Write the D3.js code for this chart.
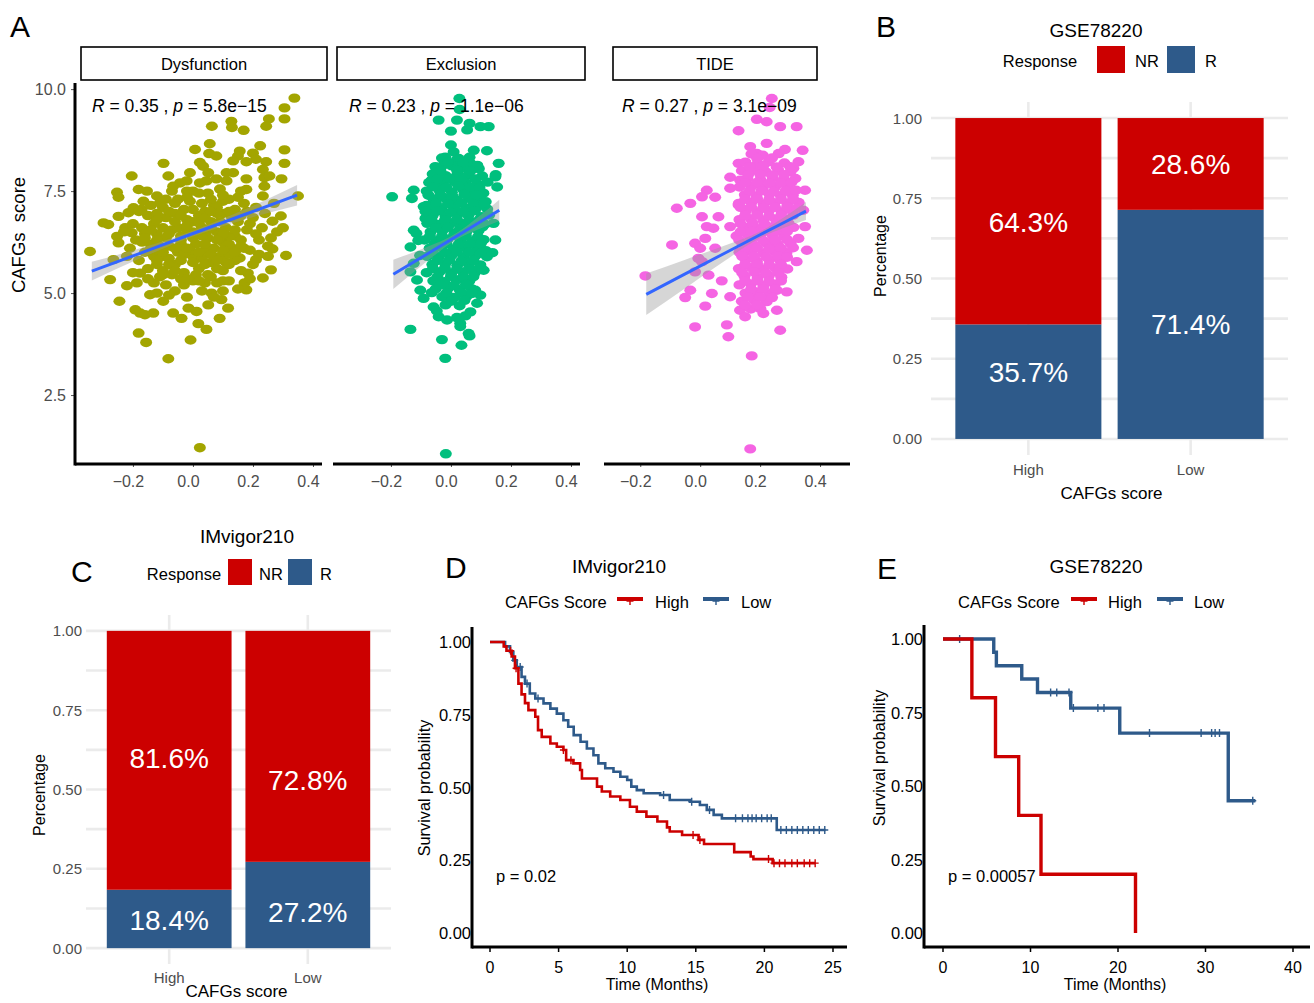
<!DOCTYPE html>
<html>
<head>
<meta charset="utf-8">
<script src="https://cdn.jsdelivr.net/npm/d3@7"></script>
<style>
  body { margin: 0; background: #fff; }
  svg { font-family: "Liberation Sans", Arial, sans-serif; }
</style>
</head>
<body>
<svg id="fig" width="1314" height="1003"></svg>
<script>
// ---------------- data: panel A (correlation facets) ----------------
const facetNames = ["Dysfunction", "Exclusion", "TIDE"];
const corR = ["0.35", "0.23", "0.27"];
const corP = ["5.8e\u221215", "1.1e\u221206", "3.1e\u221209"];
const scatterTicks = [-0.2, 0, 0.2, 0.4];
const scoreTicks = [2.5, 5, 7.5, 10];

const dysPts = [
  [0.338,9.78],[0.305,9.54],[0.305,9.27],[0.253,9.27],[0.244,9.09],[0.128,9.21],[0.13,9.06],[0.169,8.99],
  [0.063,9.09],[0.056,8.66],[0.007,8.52],[0.224,8.61],[0.305,8.51],[0.305,8.18],[0.156,8.48],[0.15,8.36],
  [0.2,8.43],[0.21,8.28],[0.178,8.22],[0.244,8.22],[0.134,8.24],[0.054,8.42],[0.078,8.36],[0.023,8.2],
  [0.034,8.11],[0.051,7.95],[-0.098,8.18],[-0.082,7.87],[-0.204,7.87],[-0.01,7.95],[-0.021,7.75],[-0.043,7.7],
  [-0.066,7.62],[0.233,8.03],[0.238,7.83],[0.255,7.87],[0.238,7.62],[0.233,7.38],[0.295,7.8],[0.178,7.8],
  [0.134,7.95],[0.112,7.95],[0.112,7.75],[0.078,7.8],[0.045,7.75],[0.023,7.7],[0.178,7.54],[-0.181,7.54],
  [-0.153,7.5],[-0.253,7.47],[-0.248,7.35],[-0.12,7.38],[-0.11,7.21],[-0.298,6.72],[-0.282,6.68],[-0.343,6.02],
  [-0.248,6.88],[-0.215,6.97],[-0.198,7.09],[-0.171,7.05],[-0.165,7.25],[-0.226,6.6],[-0.204,6.48],[-0.253,6.39],
  [-0.248,6.23],[-0.265,5.82],[-0.276,5.33],[-0.22,5.18],[-0.187,5.25],[-0.176,5.49],[-0.245,4.8],[-0.192,4.59],
  [-0.176,4.51],[-0.132,4.51],[-0.16,4.47],[-0.181,4.02],[-0.156,3.79],[-0.082,3.39],[-0.008,3.85],[0.018,4.25],
  [0.045,4.11],[0.023,1.21],[0.089,4.38],[0.117,4.63],[0.095,4.84],[0.051,4.71],[0.062,5.0],[-0.066,4.51],
  [-0.038,4.38],[-0.015,4.63],[0.012,4.55],[-0.099,4.8],[-0.143,4.96],[-0.12,5.0],[0.178,5.08],[0.172,5.25],
  [0.183,5.49],[0.233,5.37],[0.26,5.57],[0.31,5.92],[0.293,6.89],[0.265,6.76],[0.25,6.15],[0.265,6.08],
  [0.21,5.82],[0.35,7.38],[0.134,5.98],[0.156,5.86],
  [-0.15,6.9],[-0.13,6.7],[-0.12,6.45],[-0.14,6.2],[-0.16,6.0],[-0.19,6.3],[-0.18,5.8],[-0.15,5.6],
  [-0.11,5.4],[-0.09,5.2],[-0.06,5.05],[-0.03,5.2],[-0.1,5.9],[-0.08,6.15],[-0.07,6.55],[-0.09,6.85],
  [-0.1,7.1],[-0.05,7.3],[-0.03,7.05],[-0.02,6.8],[-0.04,6.4],[-0.05,6.0],[-0.06,5.7],[-0.03,5.5],
  [0.0,5.3],[0.02,5.6],[0.0,5.9],[0.01,6.2],[0.0,6.5],[0.02,6.9],[0.03,7.2],[0.05,7.45],
  [0.07,7.15],[0.06,6.75],[0.05,6.35],[0.04,6.05],[0.06,5.75],[0.05,5.45],[0.08,5.25],[0.1,5.55],
  [0.09,5.9],[0.1,6.25],[0.11,6.6],[0.1,6.95],[0.12,7.3],[0.14,7.05],[0.15,6.75],[0.14,6.4],
  [0.13,6.1],[0.16,6.3],[0.18,6.55],[0.2,6.85],[0.17,7.2],[0.21,7.1],[0.23,6.6],[0.22,6.3],
  [0.19,6.05],[0.2,5.7],[0.12,5.3],[0.15,5.1],[-0.13,5.25],[-0.2,5.5],[-0.21,6.1],[-0.23,6.5],
  [-0.17,6.6],[-0.14,7.15],[-0.07,7.5],[0.0,7.5],[0.09,7.55],[0.16,7.5],[0.27,7.2],[0.28,6.5],
  [0.3,6.6],[0.25,5.9],[0.07,4.9],[-0.02,4.9],[-0.08,4.95],[0.03,5.05],[-0.12,5.7],[-0.04,6.2],
  [0.03,6.6],[0.08,6.5],[-0.01,7.25],[0.04,7.0],[-0.09,6.35],
  [-0.2,6.7],[-0.18,7.0],[-0.16,6.45],[-0.12,6.95],[-0.11,6.15],[-0.13,5.9],[-0.15,5.35],[-0.07,5.45],
  [-0.08,5.85],[-0.05,6.6],[-0.02,6.55],[-0.03,5.95],[0.01,5.45],[0.03,5.85],[0.03,6.4],[0.02,7.45],
  [0.06,7.3],[0.08,6.95],[0.07,6.1],[0.08,5.6],[0.11,5.75],[0.12,6.4],[0.13,6.85],[0.15,7.35],
  [0.18,7.0],[0.19,6.7],[0.17,6.1],[0.16,5.55],[0.14,5.8],[0.21,6.45],[0.24,6.95],[0.22,5.95],
  [0.19,5.35],[0.1,5.05],[0.04,5.25],[-0.04,5.35],[-0.1,5.55],[-0.17,6.25],[-0.06,6.95],[-0.02,7.5],
  [0.1,7.25],[0.26,6.35],[-0.22,5.9],[-0.09,7.3],[0.05,6.55],[-0.01,6.05],[0.0,6.75],[0.09,6.75],
  [-0.13,6.05],[0.12,5.95],
  [-0.14,6.55],[-0.1,6.6],[-0.06,6.75],[-0.02,6.65],[0.02,6.72],[0.06,6.6],[0.1,6.45],[0.14,6.55],
  [-0.16,6.35],[-0.12,6.3],[-0.08,6.45],[-0.04,6.3],[0.0,6.35],[0.04,6.2],[0.08,6.3],[0.12,6.2],[0.16,6.15],
  [-0.14,6.1],[-0.1,6.0],[-0.06,6.1],[-0.02,6.1],[0.02,6.0],[0.06,5.95],[0.1,6.05],[0.14,6.0],
  [-0.12,5.8],[-0.08,5.7],[-0.04,5.8],[0.0,5.75],[0.04,5.7],[0.08,5.8],[0.12,5.7],
  [-0.1,5.45],[-0.06,5.55],[-0.02,5.35],[0.02,5.3],[0.06,5.4],[0.1,5.3],
  [-0.12,6.8],[-0.08,7.0],[-0.04,6.9],[0.0,7.05],[0.04,6.85],[0.08,7.1],[0.12,7.0],[0.16,6.9],
  [-0.06,7.2],[-0.02,7.35],[0.06,7.0],[0.1,7.4]
];

const excPts = [
  [0.028,9.77],[-0.041,9.24],[0.02,9.24],[0.062,9.16],[0.098,9.08],[0.126,9.08],[0.0,8.97],[0.0,8.63],
  [0.009,8.46],[0.076,8.5],[0.12,8.49],[0.159,8.18],[0.148,7.85],[0.154,7.6],[-0.196,7.36],[-0.124,7.52],
  [-0.13,7.32],[-0.091,7.12],[-0.085,6.83],[-0.124,6.54],[-0.135,6.13],[-0.124,5.73],[-0.135,5.52],[-0.113,5.32],
  [-0.102,5.07],[-0.091,4.87],[-0.058,4.66],[-0.041,4.42],[-0.013,4.34],[0.031,4.26],[0.065,4.54],[-0.135,4.11],
  [-0.03,3.86],[0.059,4.01],[-0.019,3.4],[0.081,5.07],[0.098,4.95],[0.087,4.75],[0.142,6.71],[0.148,6.3],
  [0.12,5.89],[0.109,5.56],[-0.017,1.06],
  [0.029,9.5],[0.054,9.0],[-0.019,8.33],[0.026,8.3],[0.037,8.14],[-0.025,8.14],[0.065,8.18],[0.093,8.05],
  [0.149,7.9],[-0.064,7.77],[-0.042,7.64],[-0.081,7.15],[-0.064,6.94],[0.116,7.24],[0.127,6.91],[-0.115,6.46],
  [-0.109,6.29],[-0.103,5.92],[0.116,6.04],[0.138,5.99],[-0.064,5.01],[-0.047,4.56],[0.02,4.4],[0.048,4.44],
  [0.031,4.18],[0.062,3.95],[0.035,3.72],
  [-0.03,8.31],[0.02,8.27],[0.062,8.33],
  [-0.052,8.1],[0.003,8.12],[0.041,8.07],[0.088,8.13],
  [-0.061,7.92],[-0.018,7.88],[0.022,7.93],[0.058,7.9],[0.104,7.87],
  [-0.073,7.71],[-0.028,7.68],[0.012,7.73],[0.049,7.7],[0.091,7.66],[0.122,7.72],
  [-0.081,7.5],[-0.039,7.52],[0.003,7.47],[0.042,7.53],[0.079,7.49],[0.108,7.45],
  [-0.058,7.3],[-0.021,7.33],[0.019,7.28],[0.061,7.32],[0.098,7.29],
  [-0.069,7.1],[-0.032,7.07],[0.011,7.12],[0.052,7.08],[0.087,7.11],[0.121,7.06],
  [-0.061,6.9],[-0.018,6.88],[0.023,6.93],[0.058,6.9],[0.102,6.87],
  [-0.079,6.71],[-0.041,6.68],[0.002,6.72],[0.039,6.7],[0.081,6.66],[0.113,6.69],
  [-0.068,6.5],[-0.029,6.52],[0.012,6.47],[0.051,6.5],[0.092,6.53],
  [-0.088,6.3],[-0.049,6.28],[-0.011,6.32],[0.032,6.29],[0.071,6.27],[0.109,6.31],
  [-0.071,6.1],[-0.032,6.12],[0.009,6.08],[0.048,6.11],[0.089,6.09],
  [-0.079,5.9],[-0.041,5.88],[0.002,5.92],[0.042,5.89],[0.081,5.91],
  [-0.062,5.7],[-0.019,5.72],[0.021,5.68],[0.059,5.71],[0.098,5.69],
  [-0.081,5.5],[-0.038,5.52],[0.001,5.48],[0.041,5.51],[0.079,5.49],
  [-0.059,5.3],[-0.022,5.28],[0.019,5.32],[0.061,5.29],
  [-0.051,5.1],[-0.009,5.12],[0.029,5.08],[0.068,5.11],
  [-0.029,4.91],[0.011,4.89],[0.052,4.92],
  [-0.018,4.71],[0.029,4.69],
  [-0.01,8.21],[0.04,8.2],
  [-0.035,8.0],[0.02,8.02],[0.065,7.99],
  [-0.045,7.8],[-0.005,7.81],[0.035,7.78],[0.08,7.8],
  [-0.06,7.61],[-0.015,7.59],[0.025,7.62],[0.065,7.6],[0.095,7.58],
  [-0.075,7.4],[-0.035,7.41],[0.005,7.38],[0.045,7.42],[0.085,7.4],
  [-0.05,7.2],[-0.01,7.19],[0.035,7.21],[0.075,7.18],[0.11,7.2],
  [-0.085,7.0],[-0.045,7.01],[0.0,6.98],[0.04,7.0],[0.08,7.02],
  [-0.065,6.8],[-0.02,6.79],[0.02,6.81],[0.06,6.78],[0.095,6.8],
  [-0.05,6.6],[-0.01,6.61],[0.03,6.58],[0.07,6.6],[0.105,6.62],
  [-0.07,6.4],[-0.03,6.39],[0.01,6.41],[0.05,6.4],[0.09,6.38],
  [-0.055,6.2],[-0.015,6.21],[0.025,6.19],[0.065,6.2],[0.1,6.22],
  [-0.06,6.0],[-0.02,5.99],[0.02,6.01],[0.06,6.0],[0.1,5.98],
  [-0.045,5.8],[-0.005,5.81],[0.035,5.79],[0.075,5.8],
  [-0.06,5.6],[-0.02,5.61],[0.02,5.59],[0.06,5.6],[0.095,5.62],
  [-0.045,5.4],[0.0,5.41],[0.04,5.39],[0.075,5.4],
  [-0.035,5.2],[0.01,5.19],[0.05,5.21],
  [-0.015,5.0],[0.035,5.01],[0.07,4.99],
  [0.0,4.8],[0.045,4.82]
];

const tidePts = [
  [0.239,9.77],[0.189,9.26],[0.222,9.2],[0.267,9.08],[0.322,9.08],[0.128,8.98],[0.222,8.67],[0.167,8.59],
  [0.189,8.42],[0.283,8.52],[0.342,8.5],[0.128,8.18],[0.1,7.84],[0.133,7.77],[0.022,7.52],[0.006,7.36],
  [0.05,7.35],[0.1,7.57],[-0.078,7.08],[-0.033,7.2],[0.006,6.87],[0.061,6.87],[0.022,6.63],[0.044,6.59],
  [0.1,6.63],[0.128,7.16],[-0.094,6.18],[-0.017,6.22],[0.017,6.34],[0.0,6.1],[0.05,6.1],[-0.183,5.42],
  [-0.017,5.52],[0.006,5.77],[0.028,5.44],[0.072,5.3],[-0.033,5.07],[-0.05,4.89],[0.039,4.99],[0.017,4.68],
  [0.1,4.91],[-0.017,4.17],[0.089,4.22],[0.094,3.93],[0.172,3.46],[0.267,4.09],[0.133,4.58],[0.15,4.42],
  [0.211,4.5],[0.256,4.58],[0.289,5.03],[0.256,5.07],[0.322,5.77],[0.356,6.05],[0.328,6.34],[0.35,6.63],
  [0.344,7.03],[0.35,7.52],[0.311,8.06],[0.328,8.22],[0.167,1.18],[-0.006,5.85],[0.232,9.55],
  [0.171,8.41],[0.209,8.38],[0.262,8.42],
  [0.151,8.21],[0.192,8.18],[0.229,8.22],[0.281,8.19],
  [0.139,8.0],[0.181,8.02],[0.219,7.97],[0.261,8.01],[0.302,7.98],
  [0.158,7.81],[0.201,7.78],[0.242,7.82],[0.279,7.79],[0.318,7.81],
  [0.131,7.6],[0.172,7.62],[0.209,7.58],[0.251,7.61],[0.291,7.59],
  [0.149,7.41],[0.188,7.38],[0.231,7.42],[0.269,7.39],[0.309,7.4],
  [0.129,7.2],[0.171,7.22],[0.212,7.18],[0.248,7.21],[0.291,7.19],[0.329,7.22],
  [0.152,7.01],[0.191,6.98],[0.229,7.02],[0.272,6.99],[0.308,7.01],
  [0.131,6.8],[0.169,6.82],[0.211,6.78],[0.252,6.81],[0.288,6.79],
  [0.149,6.61],[0.192,6.58],[0.228,6.62],[0.271,6.59],[0.311,6.61],
  [0.121,6.4],[0.161,6.42],[0.199,6.38],[0.242,6.41],[0.281,6.39],
  [0.141,6.21],[0.178,6.18],[0.222,6.22],[0.259,6.19],[0.302,6.21],
  [0.131,6.0],[0.169,6.02],[0.212,5.98],[0.251,6.01],[0.288,5.99],
  [0.152,5.81],[0.189,5.78],[0.231,5.82],[0.268,5.79],
  [0.129,5.6],[0.171,5.62],[0.208,5.58],[0.252,5.61],[0.291,5.59],
  [0.148,5.41],[0.192,5.38],[0.229,5.42],[0.271,5.39],
  [0.131,5.2],[0.169,5.22],[0.211,5.18],[0.249,5.21],
  [0.151,5.0],[0.188,5.02],[0.231,4.98],
  [0.139,4.8],[0.181,4.82],[0.222,4.79],
  [0.169,4.61],[0.201,4.62],
  [0.19,8.3],[0.24,8.31],
  [0.165,8.1],[0.21,8.11],[0.255,8.09],[0.3,8.1],
  [0.16,7.9],[0.2,7.91],[0.24,7.89],[0.28,7.9],
  [0.15,7.7],[0.19,7.71],[0.23,7.69],[0.27,7.7],[0.305,7.72],
  [0.165,7.5],[0.205,7.51],[0.245,7.49],[0.285,7.5],[0.32,7.52],
  [0.15,7.3],[0.19,7.31],[0.23,7.29],[0.27,7.3],[0.31,7.31],
  [0.135,7.1],[0.17,7.11],[0.21,7.09],[0.25,7.1],[0.29,7.11],[0.325,7.09],
  [0.15,6.9],[0.19,6.91],[0.23,6.89],[0.27,6.9],[0.31,6.91],
  [0.135,6.7],[0.175,6.71],[0.215,6.69],[0.255,6.7],[0.295,6.71],
  [0.135,6.5],[0.17,6.51],[0.21,6.49],[0.25,6.5],[0.29,6.51],
  [0.13,6.3],[0.17,6.31],[0.21,6.29],[0.25,6.3],[0.29,6.31],
  [0.15,6.1],[0.19,6.11],[0.23,6.09],[0.27,6.1],[0.31,6.11],
  [0.14,5.9],[0.18,5.91],[0.22,5.89],[0.26,5.9],[0.29,5.88],
  [0.15,5.7],[0.19,5.71],[0.23,5.69],[0.27,5.7],
  [0.14,5.5],[0.18,5.51],[0.22,5.49],[0.26,5.5],
  [0.15,5.3],[0.19,5.31],[0.23,5.29],[0.27,5.3],
  [0.17,5.1],[0.21,5.11],[0.25,5.09],
  [0.16,4.9],[0.2,4.91],[0.24,4.89],
  [0.15,4.7],[0.19,4.71]
];

// linear fits with 95% band: x, fitted value, half width
const dysFitX = [-0.337, -0.17, 0, 0.17, 0.347];
const dysFitY = [5.54, 5.99, 6.46, 6.92, 7.40];
const dysFitSE = [0.23, 0.12, 0.07, 0.12, 0.25];
const excFitX = [-0.192, -0.09, 0.02, 0.09, 0.161];
const excFitY = [5.46, 5.91, 6.40, 6.71, 7.03];
const excFitSE = [0.36, 0.19, 0.08, 0.15, 0.26];
const tideFitX = [-0.18, -0.05, 0.08, 0.2, 0.28, 0.353];
const tideFitY = [4.97, 5.47, 5.97, 6.43, 6.73, 7.01];
const tideFitSE = [0.51, 0.35, 0.19, 0.08, 0.13, 0.22];

// ---------------- data: panels B and C (response bars) ----------------
const barGroups = ["High", "Low"];
const gseNR = [64.3, 28.6];
const gseR = [35.7, 71.4];
const gseLabelNR = [0.676, 0.857];
const gseLabelR = [0.209, 0.358];
const imvNR = [81.6, 72.8];
const imvR = [18.4, 27.2];
const imvLabelNR = [0.599, 0.53];
const imvLabelR = [0.088, 0.114];
const pctTicks = [0, 0.25, 0.5, 0.75, 1];

// ---------------- data: panels D and E (Kaplan-Meier) ----------------
const survTicks = [0, 0.25, 0.5, 0.75, 1];
const imvTimeTicks = [0, 5, 10, 15, 20, 25];
const imvHighT = [0, 1.0, 1.2, 1.58, 1.82, 2.07, 2.3, 2.55, 2.8, 3.3, 3.5, 3.77, 4.4, 4.87, 5.35, 5.55, 6.08, 6.57, 6.7,
  7.8, 8.15, 8.76, 9.5, 10.2, 10.7, 11.4, 12.2, 12.9, 13.1, 14.0, 15.2, 15.6, 17.8, 19.0, 19.2, 20.6, 23.7];
const imvHighS = [1, 0.985, 0.97, 0.95, 0.91, 0.857, 0.82, 0.79, 0.766, 0.743, 0.697, 0.674, 0.651, 0.64, 0.629, 0.594,
  0.583, 0.56, 0.531, 0.503, 0.486, 0.469, 0.457, 0.434, 0.417, 0.4, 0.383, 0.363, 0.349, 0.337, 0.32, 0.306, 0.278,
  0.263, 0.254, 0.24, 0.24];
const imvHighCens = [1.5, 1.9, 5.35, 5.9, 14.8, 15.3, 20.3, 20.7, 21.1, 21.5, 22.0, 22.4, 22.9, 23.3, 23.7];
const imvLowT = [0, 1.1, 1.46, 1.7, 1.95, 2.3, 2.55, 2.9, 3.3, 3.9, 4.4, 4.87, 5.35, 5.7, 6.1, 6.6, 7.06, 7.54, 7.9,
  8.4, 9.0, 9.5, 10.0, 10.3, 10.7, 11.2, 12.4, 13.1, 14.6, 15.3, 15.8, 16.3, 16.9, 20.9, 24.45];
const imvLowS = [1, 0.985, 0.966, 0.937, 0.914, 0.88, 0.857, 0.823, 0.806, 0.789, 0.771, 0.754, 0.731, 0.709, 0.68,
  0.657, 0.634, 0.611, 0.583, 0.566, 0.554, 0.537, 0.526, 0.503, 0.491, 0.48, 0.474, 0.457, 0.451, 0.44, 0.423, 0.406,
  0.394, 0.354, 0.354];
const imvLowCens = [1.8, 2.2, 2.7, 3.5, 12.65, 14.7, 16.0, 17.9, 18.4, 18.8, 19.1, 19.4, 19.8, 20.2, 20.5, 21.2, 21.6,
  22.0, 22.4, 22.8, 23.2, 23.6, 24.0, 24.4];

const gseTimeTicks = [0, 10, 20, 30, 40];
const gseHighT = [0, 3.3, 6.0, 8.65, 11.2, 22.0];
const gseHighS = [1, 0.8, 0.6, 0.4, 0.2, 0];
const gseHighCens = [];
const gseLowT = [0, 5.8, 6.1, 9.0, 10.8, 14.6, 20.2, 32.6, 35.7];
const gseLowS = [1, 0.955, 0.909, 0.864, 0.818, 0.765, 0.68, 0.45, 0.45];
const gseLowCens = [1.9, 12.3, 13.0, 14.4, 14.9, 17.7, 18.4, 23.6, 29.5, 30.7, 31.1, 31.6, 35.4];

// ---------------- drawing ----------------
const RED = "#CC0000";
const BLUE = "#2E5A8A";
const TICK_GREY = "#4d4d4d";
const svg = d3.select("#fig");

function addText(g, x, y, s, size, extra) {
  const t = g.append("text").attr("x", x).attr("y", y).attr("font-size", size).text(s);
  if (extra) Object.entries(extra).forEach(([k, v]) => t.attr(k, v));
  return t;
}

function panelLetter(x, y, s) {
  addText(svg, x, y, s, 30);
}

// --- panel A
const yScore = d3.scaleLinear().domain([0.81, 10.15]).range([464, 83]);

function drawScatter(cfg) {
  const g = svg.append("g");
  const x = d3.scaleLinear().domain(cfg.xDomain).range(cfg.xRange);

  g.append("rect")
    .attr("x", cfg.strip[0]).attr("y", 47)
    .attr("width", cfg.strip[1] - cfg.strip[0]).attr("height", 33)
    .attr("fill", "#fff").attr("stroke", "#000").attr("stroke-width", 1.6);
  addText(g, (cfg.strip[0] + cfg.strip[1]) / 2, 70, cfg.name, 16.5, {"text-anchor": "middle"});

  g.selectAll("ellipse").data(cfg.pts).join("ellipse")
    .attr("cx", d => x(d[0])).attr("cy", d => yScore(d[1]))
    .attr("rx", 6).attr("ry", 4.7)
    .attr("fill", cfg.color);

  const idx = d3.range(cfg.fitX.length);
  const band = d3.area()
    .x(i => x(cfg.fitX[i]))
    .y0(i => yScore(cfg.fitY[i] - cfg.fitSE[i]))
    .y1(i => yScore(cfg.fitY[i] + cfg.fitSE[i]))
    .curve(d3.curveMonotoneX);
  g.append("path").attr("d", band(idx)).attr("fill", "#999").attr("opacity", 0.4);
  const fit = d3.line().x(i => x(cfg.fitX[i])).y(i => yScore(cfg.fitY[i]));
  g.append("path").attr("d", fit(idx)).attr("fill", "none")
    .attr("stroke", "#3366FF").attr("stroke-width", 3);

  const ax = g.append("g").attr("transform", "translate(0,464)")
    .call(d3.axisBottom(x).tickValues(scatterTicks).tickFormat(d3.format(".1f")).tickSize(3).tickPadding(9));
  ax.select(".domain").remove();
  ax.selectAll("line").attr("stroke", "#555");
  ax.selectAll("text").attr("fill", TICK_GREY).attr("font-size", 16).attr("dx", -5)
    .attr("font-family", "Liberation Sans, Arial");
  g.append("line")
    .attr("x1", cfg.xRange[0]).attr("x2", cfg.xRange[1]).attr("y1", 464).attr("y2", 464)
    .attr("stroke", "#000").attr("stroke-width", 3);

  const t = g.append("text").attr("x", cfg.annX).attr("y", 112).attr("font-size", 17.5);
  t.append("tspan").attr("font-style", "italic").text("R");
  t.append("tspan").text(` = ${cfg.r} , `);
  t.append("tspan").attr("font-style", "italic").text("p");
  t.append("tspan").text(` = ${cfg.p}`);
}

drawScatter({name: facetNames[0], pts: dysPts, color: "#A3A500", xDomain: [-0.393, 0.43], xRange: [75, 322],
  strip: [81, 327], fitX: dysFitX, fitY: dysFitY, fitSE: dysFitSE, annX: 92, r: corR[0], p: corP[0]});
drawScatter({name: facetNames[1], pts: excPts, color: "#00BF7D", xDomain: [-0.393, 0.43], xRange: [333, 580],
  strip: [337, 585], fitX: excFitX, fitY: excFitY, fitSE: excFitSE, annX: 349, r: corR[1], p: corP[1]});
drawScatter({name: facetNames[2], pts: tidePts, color: "#F564E3", xDomain: [-0.321, 0.5], xRange: [604, 850],
  strip: [613, 817], fitX: tideFitX, fitY: tideFitY, fitSE: tideFitSE, annX: 622, r: corR[2], p: corP[2]});

// y axis of the first facet
{
  const ay = svg.append("g").attr("transform", "translate(74,0)")
    .call(d3.axisLeft(yScore).tickValues(scoreTicks).tickFormat(d3.format(".1f")).tickSize(3).tickPadding(5));
  ay.select(".domain").remove();
  ay.selectAll("line").attr("stroke", "#555");
  ay.selectAll("text").attr("fill", TICK_GREY).attr("font-size", 16).attr("font-family", "Liberation Sans, Arial");
  svg.append("line").attr("x1", 75).attr("x2", 75).attr("y1", 83).attr("y2", 465.5)
    .attr("stroke", "#000").attr("stroke-width", 3);
  addText(svg, 0, 0, "CAFGs\u00a0\u00a0score", 18.5, {"text-anchor": "middle", "transform": "translate(25,235) rotate(-90)"});
}
panelLetter(10, 37, "A");

// --- panels B and C
function drawBars(cfg) {
  const g = svg.append("g");
  const x = d3.scalePoint().domain(barGroups).range(cfg.xRange).padding(0.6);
  const y = d3.scaleLinear().domain([-0.05, 1.05]).range(cfg.yRange);
  const bw = x.step() * 0.9;

  g.selectAll(".hg").data(d3.range(0, 1.0001, 0.125)).join("line")
    .attr("x1", cfg.xRange[0]).attr("x2", cfg.xRange[1])
    .attr("y1", d => y(d)).attr("y2", d => y(d))
    .attr("stroke", "#ebebeb").attr("stroke-width", 2.6);
  g.selectAll(".vg").data(barGroups).join("line")
    .attr("x1", d => x(d)).attr("x2", d => x(d))
    .attr("y1", cfg.yRange[0]).attr("y2", cfg.yRange[1])
    .attr("stroke", "#ebebeb").attr("stroke-width", 2.6);

  const rows = barGroups.map((k, i) => ({k, nr: cfg.NR[i] / 100, r: cfg.R[i] / 100, lnr: cfg.labNR[i], lr: cfg.labR[i]}));
  g.selectAll(".rbar").data(rows).join("rect")
    .attr("x", d => x(d.k) - bw / 2).attr("width", bw)
    .attr("y", d => y(d.r)).attr("height", d => y(0) - y(d.r))
    .attr("fill", BLUE);
  g.selectAll(".nrbar").data(rows).join("rect")
    .attr("x", d => x(d.k) - bw / 2).attr("width", bw)
    .attr("y", d => y(1)).attr("height", d => y(d.r) - y(1))
    .attr("fill", RED);
  g.selectAll(".lnr").data(rows).join("text")
    .attr("x", d => x(d.k)).attr("y", d => y(d.lnr) + 10)
    .attr("text-anchor", "middle").attr("font-size", 28).attr("fill", "#fff")
    .text(d => (d.nr * 100).toFixed(1) + "%");
  g.selectAll(".lr").data(rows).join("text")
    .attr("x", d => x(d.k)).attr("y", d => y(d.lr) + 10)
    .attr("text-anchor", "middle").attr("font-size", 28).attr("fill", "#fff")
    .text(d => (d.r * 100).toFixed(1) + "%");

  g.selectAll(".yt").data(pctTicks).join("text")
    .attr("x", cfg.labelX).attr("y", d => y(d) + 5.5)
    .attr("text-anchor", "end").attr("font-size", 15).attr("fill", TICK_GREY)
    .text(d3.format(".2f"));
  g.selectAll(".xt").data(barGroups).join("text")
    .attr("x", d => x(d)).attr("y", cfg.xLabelY)
    .attr("text-anchor", "middle").attr("font-size", 15).attr("fill", TICK_GREY)
    .text(d => d);
  addText(g, (cfg.xRange[0] + cfg.xRange[1]) / 2 + cfg.xTitleShift, cfg.xTitleY, "CAFGs score", 17, {"text-anchor": "middle"});
  addText(g, 0, 0, "Percentage", 16, {"text-anchor": "middle", "transform": `translate(${cfg.yTitle[0]},${cfg.yTitle[1]}) rotate(-90)`});

  addText(g, cfg.titleX, cfg.titleY, cfg.title, 19, {"text-anchor": "middle"});
  const L = cfg.legend;
  addText(g, L.respX, L.baseY, "Response", 16.5, {"text-anchor": "middle"});
  g.append("rect").attr("x", L.box1).attr("y", L.boxY).attr("width", L.boxW).attr("height", L.boxH).attr("fill", RED);
  addText(g, L.nrX, L.baseY, "NR", 16.5);
  g.append("rect").attr("x", L.box2).attr("y", L.boxY).attr("width", L.boxW).attr("height", L.boxH).attr("fill", BLUE);
  addText(g, L.rX, L.baseY, "R", 16.5);
}

drawBars({NR: gseNR, R: gseR, labNR: gseLabelNR, labR: gseLabelR, xRange: [931, 1288], yRange: [455, 102],
  labelX: 922, xLabelY: 475, xTitleY: 499, xTitleShift: 2, yTitle: [886, 256],
  title: "GSE78220", titleX: 1096, titleY: 37,
  legend: {respX: 1040, baseY: 67, box1: 1097, box2: 1167, boxY: 46, boxW: 28, boxH: 27, nrX: 1135, rX: 1205}});
drawBars({NR: imvNR, R: imvR, labNR: imvLabelNR, labR: imvLabelR, xRange: [86, 391], yRange: [964, 615],
  labelX: 82, xLabelY: 983, xTitleY: 997, xTitleShift: -2, yTitle: [45, 795],
  title: "IMvigor210", titleX: 247, titleY: 543,
  legend: {respX: 184, baseY: 580, box1: 228, box2: 288, boxY: 559, boxW: 24, boxH: 26, nrX: 259, rX: 320}});
panelLetter(876, 37, "B");
panelLetter(71, 582, "C");

// --- panels D and E
function survAt(T, S, t) {
  let s = S[0];
  for (let i = 0; i < T.length; i++) if (T[i] <= t) s = S[i];
  return s;
}

function plusMark(g, cx, cy, color, w) {
  g.append("path").attr("d", `M${cx - 3.5},${cy}H${cx + 3.5}M${cx},${cy - 4}V${cy + 4}`)
    .attr("stroke", color).attr("stroke-width", w).attr("fill", "none");
}

function drawKM(cfg) {
  const g = svg.append("g");
  const x = d3.scaleLinear().domain(cfg.xDomain).range(cfg.xRange);
  const y = d3.scaleLinear().domain([0, 1]).range(cfg.yRange);
  const step = d3.line().curve(d3.curveStepAfter);

  const curves = [
    {T: cfg.lowT, S: cfg.lowS, C: cfg.lowC, color: BLUE},
    {T: cfg.highT, S: cfg.highS, C: cfg.highC, color: RED}
  ];
  curves.forEach(c => {
    g.append("path").attr("d", step(c.T.map((t, i) => [x(t), y(c.S[i])])))
      .attr("fill", "none").attr("stroke", c.color).attr("stroke-width", cfg.lw);
    c.C.forEach(t => plusMark(g, x(t), y(survAt(c.T, c.S, t)), c.color, 1.4));
  });

  g.append("line").attr("x1", cfg.axisX).attr("x2", cfg.axisX).attr("y1", cfg.axisTop).attr("y2", cfg.axisY + 1.5)
    .attr("stroke", "#000").attr("stroke-width", 3);
  g.append("line").attr("x1", cfg.axisX).attr("x2", cfg.axisRight).attr("y1", cfg.axisY).attr("y2", cfg.axisY)
    .attr("stroke", "#000").attr("stroke-width", 3);

  g.selectAll(".xtm").data(cfg.xTicks).join("line")
    .attr("x1", d => x(d)).attr("x2", d => x(d)).attr("y1", cfg.axisY).attr("y2", cfg.axisY + 5)
    .attr("stroke", "#000").attr("stroke-width", 1.5);
  g.selectAll(".xt").data(cfg.xTicks).join("text")
    .attr("x", d => x(d)).attr("y", 973).attr("text-anchor", "middle").attr("font-size", 16)
    .text(d => d);
  g.selectAll(".yt").data(survTicks).join("text")
    .attr("x", cfg.axisX - 1).attr("y", d => y(d) + 6).attr("text-anchor", "end").attr("font-size", 16.5)
    .text(d3.format(".2f"));

  addText(g, cfg.xTitleX, 990, "Time (Months)", 16, {"text-anchor": "middle"});
  addText(g, 0, 0, "Survival probability", 16.3,
    {"text-anchor": "middle", "transform": `translate(${cfg.yTitle[0]},${cfg.yTitle[1]}) rotate(-90)`});
  addText(g, cfg.pX, 882, cfg.pText, 16.5);

  addText(g, cfg.titleX, 573, cfg.title, 19, {"text-anchor": "middle"});
  const L = cfg.legend;
  addText(g, L.labelX, 608, "CAFGs Score", 16.5);
  [[L.k1, RED, "High", L.t1], [L.k2, BLUE, "Low", L.t2]].forEach(([kx, col, lab, tx]) => {
    g.append("line").attr("x1", kx).attr("x2", kx + 26).attr("y1", 599).attr("y2", 599)
      .attr("stroke", col).attr("stroke-width", 4);
    plusMark(g, kx + 13, 601, col, 1.4);
    addText(g, tx, 608, lab, 16.5);
  });
}

drawKM({xDomain: [0, 25], xRange: [490, 833], yRange: [933, 642], xTicks: imvTimeTicks, lw: 2.6,
  highT: imvHighT, highS: imvHighS, highC: imvHighCens, lowT: imvLowT, lowS: imvLowS, lowC: imvLowCens,
  axisX: 472, axisY: 947, axisTop: 627, axisRight: 847,
  xTitleX: 657, yTitle: [430, 788], pX: 496, pText: "p = 0.02",
  title: "IMvigor210", titleX: 619,
  legend: {labelX: 505, k1: 617, t1: 655, k2: 703, t2: 741}});
drawKM({xDomain: [0, 40], xRange: [943, 1293], yRange: [933, 639], xTicks: gseTimeTicks, lw: 3.4,
  highT: gseHighT, highS: gseHighS, highC: gseHighCens, lowT: gseLowT, lowS: gseLowS, lowC: gseLowCens,
  axisX: 924, axisY: 947, axisTop: 625, axisRight: 1310,
  xTitleX: 1115, yTitle: [885, 758], pX: 948, pText: "p = 0.00057",
  title: "GSE78220", titleX: 1096,
  legend: {labelX: 958, k1: 1071, t1: 1108, k2: 1157, t2: 1194}});
panelLetter(445, 578, "D");
panelLetter(877, 579, "E");
</script>
</body>
</html>
